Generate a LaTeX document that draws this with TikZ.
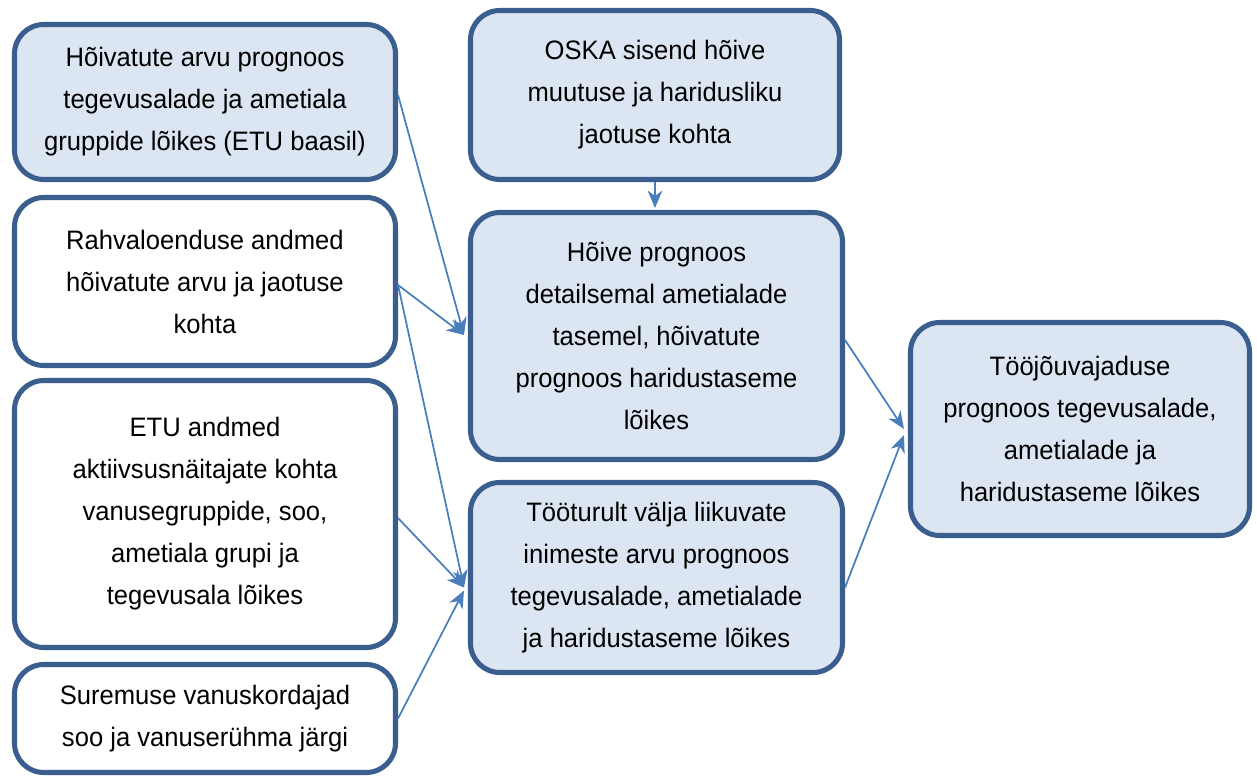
\documentclass[tikz,border=0pt]{standalone}
\usepackage{fontspec}
\setmainfont{Liberation Sans}[FakeStretch=0.96]
\usetikzlibrary{arrows.meta,calc}
\definecolor{boxfill}{HTML}{DCE6F2}
\definecolor{boxline}{HTML}{3A5F8F}
\definecolor{arrcol}{HTML}{4A7EBB}
\begin{document}
\begin{tikzpicture}[x=0.75pt,y=-0.75pt,
  box/.style={draw=boxline,line width=3.8pt,rounded corners=22pt,align=center,
    font=\fontsize{20}{31.5}\selectfont,inner sep=0pt},
  filledbox/.style={box,fill=boxfill},
  conn/.style={draw=arrcol,line width=1.3pt,-{Stealth[length=13pt,width=11pt,inset=4pt]}}]
\useasboundingbox (0,0) rectangle (1257,778);
\node[filledbox,minimum width=381*0.75pt,minimum height=155*0.75pt] (A) at (205,102)
  {Hõivatute arvu prognoos\\tegevusalade ja ametiala\\gruppide lõikes (ETU baasil)};
\node[box,fill=white,minimum width=381*0.75pt,minimum height=168*0.75pt] (B) at (205,281.5)
  {Rahvaloenduse andmed\\hõivatute arvu ja jaotuse\\kohta};
\node[box,fill=white,minimum width=381*0.75pt,minimum height=267*0.75pt] (C) at (205,514)
  {ETU andmed\\aktiivsusnäitajate kohta\\vanusegruppide, soo,\\ametiala grupi ja\\tegevusala lõikes};
\node[box,fill=white,minimum width=381*0.75pt,minimum height=108*0.75pt] (D) at (205,718.5)
  {Suremuse vanuskordajad\\soo ja vanuserühma järgi};
\node[filledbox,minimum width=369*0.75pt,minimum height=169*0.75pt] (E) at (655,95)
  {OSKA sisend hõive\\muutuse ja haridusliku\\jaotuse kohta};
\node[filledbox,minimum width=372*0.75pt,minimum height=247*0.75pt] (F) at (656.5,336)
  {Hõive prognoos\\detailsemal ametialade\\tasemel, hõivatute\\prognoos haridustaseme\\lõikes};
\node[filledbox,minimum width=372*0.75pt,minimum height=190*0.75pt] (G) at (656.5,577.5)
  {Tööturult välja liikuvate\\inimeste arvu prognoos\\tegevusalade, ametialade\\ja haridustaseme lõikes};
\node[filledbox,minimum width=339*0.75pt,minimum height=213*0.75pt] (H) at (1080,429)
  {Tööjõuvajaduse\\prognoos tegevusalade,\\ametialade ja\\haridustaseme lõikes};
% connectors
\coordinate (Fin) at ($(F.west)+(-4,-1)$);
\coordinate (Gin) at ($(G.west)+(-4,10)$);
\coordinate (Hin) at ($(H.west)+(-4,0)$);
\draw[conn] ($(A.east)+(0,-7)$) -- (Fin);
\draw[conn] ($(B.east)+(0,3.5)$) -- (Fin);
\draw[conn] ($(B.east)+(0,3.5)$) -- (Gin);
\draw[conn] ($(C.east)+(0,4)$) -- (Gin);
\draw[conn] (D.east) -- ($(G.west)+(-4,13)$);
\draw[conn] (E.south) -- ($(F.north)+(-1.5,-2)$);
\draw[conn] ($(F.east)+(0,4)$) -- (Hin);
\draw[conn] ($(G.east)+(0,10)$) -- ($(Hin)+(0,6)$);
\end{tikzpicture}
\end{document}
